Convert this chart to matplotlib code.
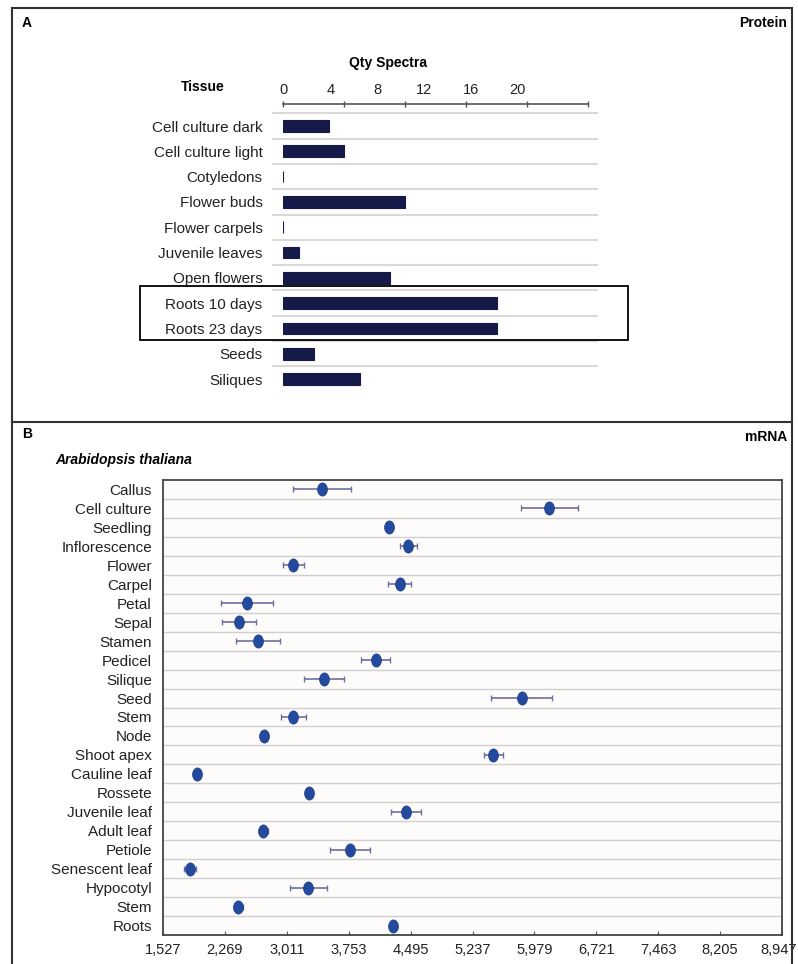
import matplotlib
matplotlib.use("Agg")
import matplotlib.pyplot as plt
from matplotlib.patches import Rectangle
from matplotlib.lines import Line2D
from matplotlib.markers import MarkerStyle
from matplotlib.transforms import Affine2D, ScaledTranslation

plt.rcParams['font.family'] = ['Liberation Sans', 'DejaVu Sans']

# panel A: protein spectral counts
tissues_a = ["Cell culture dark", "Cell culture light", "Cotyledons", "Flower buds",
             "Flower carpels", "Juvenile leaves", "Open flowers", "Roots 10 days",
             "Roots 23 days", "Seeds", "Siliques"]
spectra = [3, 4, 0, 8, 0, 1, 7, 14, 14, 2, 5]
a_ticks = [0, 4, 8, 12, 16, 20]

# panel B: mRNA expression (mean +/- error)
tissues_b = ["Callus", "Cell culture", "Seedling", "Inflorescence", "Flower", "Carpel",
             "Petal", "Sepal", "Stamen", "Pedicel", "Silique", "Seed", "Stem", "Node",
             "Shoot apex", "Cauline leaf", "Rossete", "Juvenile leaf", "Adult leaf",
             "Petiole", "Senescent leaf", "Hypocotyl", "Stem", "Roots"]
mrna_mean = [3429, 6158, 4240, 4468, 3089, 4362, 2538, 2442, 2670, 4080, 3457, 5827,
             3089, 2738, 5486, 1931, 3277, 4440, 2729, 3769, 1851, 3269, 2430, 4288]
mrna_err = [348, 344, 30, 100, 124, 132, 313, 204, 264, 174, 234, 366,
            150, 30, 112, 20, 30, 180, 55, 244, 70, 220, 55, 40]
b_ticks = [1527, 2269, 3011, 3753, 4495, 5237, 5979, 6721, 7463, 8205, 8947]

W, H = 798, 964
fig = plt.figure(figsize=(W / 100, H / 100), dpi=100)


def fx(px):
    return px / W


def fy(py):
    return 1 - py / H


# ---- panel A ----
axA = fig.add_axes([fx(283.3), fy(391.7), fx(588.3) - fx(283.3), fy(104) - fy(391.7)])
ya = list(range(len(tissues_a)))
axA.barh(ya, spectra, height=0.46, color='#151a48', edgecolor='#151a48', linewidth=0.8)
axA.set_xlim(0, 20)
axA.set_ylim(10.5, -0.87)
for y in ya:
    axA.hlines(y - 0.5, -0.75, 20.65, color='#d9d9d9', lw=1.5, clip_on=False, zorder=0)
for s in ['left', 'right', 'bottom']:
    axA.spines[s].set_visible(False)
axA.spines['top'].set_color('#555555')
axA.spines['top'].set_linewidth(1.2)
axA.xaxis.tick_top()
axA.set_xticks(a_ticks)
axA.tick_params(axis='x', direction='inout', length=5, width=1, color='#555555',
                labeltop=False)
axA.set_yticks(ya)
axA.set_yticklabels(tissues_a, fontsize=11, color='#222222')
axA.tick_params(axis='y', length=0, pad=15)
# the printed scale labels sit off the tick marks in the original figure
sec = axA.secondary_xaxis('top', functions=(lambda x: x * 1.3, lambda x: x / 1.3))
sec.set_xticks(a_ticks)
sec.tick_params(length=0, labelsize=10.5, pad=5, labelcolor='#222222')
sec.spines['top'].set_visible(False)
fig.text(fx(388), fy(63), "Qty Spectra", fontsize=10, fontweight='bold', ha='center', va='center')
fig.text(fx(203), fy(87), "Tissue", fontsize=10, fontweight='bold', ha='center', va='center')
fig.text(fx(22), fy(23), "A", fontsize=10, fontweight='bold', ha='left', va='center')
fig.text(fx(787), fy(23), "Protein", fontsize=10, fontweight='bold', ha='right', va='center')

# highlight box around roots
fig.add_artist(Rectangle((fx(140), fy(339.5)), fx(628) - fx(140), fy(286) - fy(339.5),
                         transform=fig.transFigure, fill=False, ec='black', lw=1.3))

# ---- panel B ----
axB = fig.add_axes([fx(163), fy(935), fx(782) - fx(163), fy(480) - fy(935)])
yb = list(range(len(tissues_b)))
axB.set_facecolor('#fefcfb')
for y in yb[:-1]:
    axB.axhline(y + 0.5, color='#cfcfcf', lw=1, zorder=0)
mk = MarkerStyle('o', transform=Affine2D().scale(0.75, 1.0))
axB.errorbar(mrna_mean, yb, xerr=mrna_err, fmt='none', ecolor='#6e6e9c', elinewidth=1.2,
             capsize=2.5, capthick=1, zorder=2)
axB.scatter(mrna_mean, yb, marker=mk, s=90, color='#234a9c', edgecolor='#1d3f8a',
            linewidth=0.5, zorder=3)
axB.set_xlim(1527, 8947)
axB.set_ylim(23.5, -0.5)
axB.set_xticks(b_ticks)
axB.set_xticklabels([f"{t:,}" for t in b_ticks], fontsize=10.5, color='#222222')
axB.tick_params(axis='x', direction='in', length=3, pad=6, color='#555555')
last = axB.get_xticklabels()[-1]
last.set_horizontalalignment('right')
last.set_transform(last.get_transform() + ScaledTranslation(0.15, 0, fig.dpi_scale_trans))
axB.set_yticks(yb)
axB.set_yticklabels(tissues_b, fontsize=11, color='#222222')
axB.tick_params(axis='y', length=0, pad=8)
for s in axB.spines.values():
    s.set_color('#444444')
    s.set_linewidth(1.3)
fig.text(fx(22), fy(434), "B", fontsize=10, fontweight='bold', ha='left', va='center')
fig.text(fx(787), fy(437), "mRNA", fontsize=10, fontweight='bold', ha='right', va='center')
fig.text(fx(55), fy(460), "Arabidopsis thaliana", fontsize=10, fontweight='bold',
         style='italic', ha='left', va='center')

# outer frame and panel separator
fc = '#333333'
fig.add_artist(Line2D([fx(12), fx(792)], [fy(7.5), fy(7.5)], color=fc, lw=1.5))
fig.add_artist(Line2D([fx(12), fx(12)], [fy(7.5), 0], color=fc, lw=1.5))
fig.add_artist(Line2D([fx(792), fx(792)], [fy(7.5), 0], color=fc, lw=1.5))
fig.add_artist(Line2D([fx(12), fx(792)], [fy(422), fy(422)], color=fc, lw=1.5))

fig.savefig("out.png", dpi=100)
